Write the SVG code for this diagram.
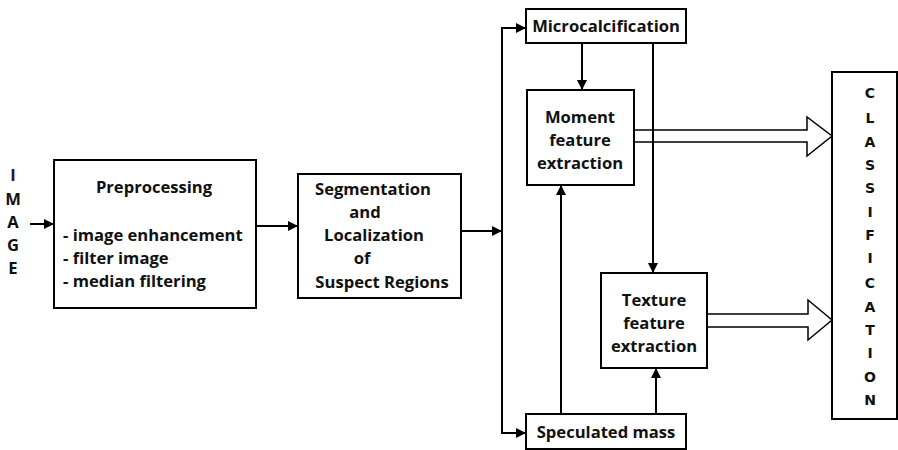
<svg xmlns="http://www.w3.org/2000/svg" width="898" height="450" viewBox="0 0 898 450">
<defs>
<marker id="ah" markerWidth="10" markerHeight="10" refX="9" refY="5" orient="auto" markerUnits="userSpaceOnUse">
<path d="M0,0 L10,5 L0,10 Z" fill="#000"/>
</marker>
<style>
.box{fill:#fff;stroke:#000;stroke-width:2}
.t{font-family:"Open Sans","Liberation Sans",Arial,sans-serif;font-weight:bold;font-size:16.6px;fill:#111}
.c{text-anchor:middle}
.v{font-family:"DejaVu Sans",sans-serif;font-weight:bold;font-size:14px;fill:#111;text-anchor:middle}
.ln{fill:none;stroke:#000;stroke-width:2}
.hol{fill:#fff;stroke:#000;stroke-width:1.5}
</style>
</defs>
<rect width="898" height="450" fill="#fff"/>

<g id="connectors">
<line class="ln" x1="30" y1="224" x2="53" y2="224" marker-end="url(#ah)"/>
<line class="ln" x1="256" y1="226" x2="297" y2="226" marker-end="url(#ah)"/>
<line class="ln" x1="461" y1="231" x2="501" y2="231" marker-end="url(#ah)"/>
<polyline class="ln" points="525,28 502,28 502,433 525,433"/>
<line class="ln" x1="502" y1="28" x2="525" y2="28" marker-end="url(#ah)"/>
<line class="ln" x1="502" y1="433" x2="525" y2="433" marker-end="url(#ah)"/>
<line class="ln" x1="582" y1="43" x2="582" y2="89" marker-end="url(#ah)"/>
<line class="ln" x1="561" y1="414" x2="561" y2="186" marker-end="url(#ah)"/>
<line class="ln" x1="656" y1="414" x2="656" y2="369" marker-end="url(#ah)"/>
<path class="hol" d="M634,130 L807,130 L807,117 L832,136 L807,156 L807,142 L634,142"/>
<path class="hol" d="M707,314 L808,314 L808,300 L832,320 L808,340 L808,327 L707,327"/>
<line class="ln" x1="653" y1="43" x2="653" y2="272" marker-end="url(#ah)"/>
</g>

<g id="image-label">
<text class="t c" x="13" y="181" style="fill:#2a1020">I</text>
<text class="t c" x="13" y="205">M</text>
<text class="t c" x="13" y="228">A</text>
<text class="t c" x="13" y="251">G</text>
<text class="t c" x="13" y="274">E</text>
</g>

<g id="preprocessing">
<rect class="box" x="54" y="160" width="202" height="148"/>
<text class="t c" x="154" y="193">Preprocessing</text>
<text class="t" x="63" y="241">- image enhancement</text>
<text class="t" x="63" y="264">- filter image</text>
<text class="t" x="63" y="287">- median filtering</text>
</g>

<g id="segmentation">
<rect class="box" x="298" y="174" width="163" height="124"/>
<text class="t c" x="373" y="195">Segmentation</text>
<text class="t c" x="365" y="218">and</text>
<text class="t c" x="374" y="241">Localization</text>
<text class="t c" x="362" y="264">of</text>
<text class="t c" x="382" y="288">Suspect Regions</text>
</g>

<g id="microcalcification">
<rect class="box" x="526" y="9" width="160" height="34"/>
<text class="t c" x="606" y="32">Microcalcification</text>
</g>

<g id="moment">
<rect class="box" x="527" y="90" width="107" height="95"/>
<text class="t c" x="580" y="123">Moment</text>
<text class="t c" x="580" y="146">feature</text>
<text class="t c" x="580" y="169">extraction</text>
</g>

<g id="texture">
<rect class="box" x="601" y="273" width="106" height="95"/>
<text class="t c" x="654" y="306">Texture</text>
<text class="t c" x="654" y="329">feature</text>
<text class="t c" x="654" y="352">extraction</text>
</g>

<g id="speculated">
<rect class="box" x="526" y="414" width="160" height="35"/>
<text class="t c" x="606" y="438">Speculated mass</text>
</g>

<g id="classification">
<rect class="box" x="832" y="72" width="65" height="347"/>
<text class="v" x="870" y="98">C</text>
<text class="v" x="870" y="123">L</text>
<text class="v" x="870" y="147">A</text>
<text class="v" x="870" y="170">S</text>
<text class="v" x="870" y="193">S</text>
<text class="v" x="870" y="217">I</text>
<text class="v" x="870" y="240">F</text>
<text class="v" x="870" y="263">I</text>
<text class="v" x="870" y="288">C</text>
<text class="v" x="870" y="312">A</text>
<text class="v" x="870" y="335">T</text>
<text class="v" x="870" y="358">I</text>
<text class="v" x="870" y="382">O</text>
<text class="v" x="870" y="405">N</text>
</g>
</svg>
